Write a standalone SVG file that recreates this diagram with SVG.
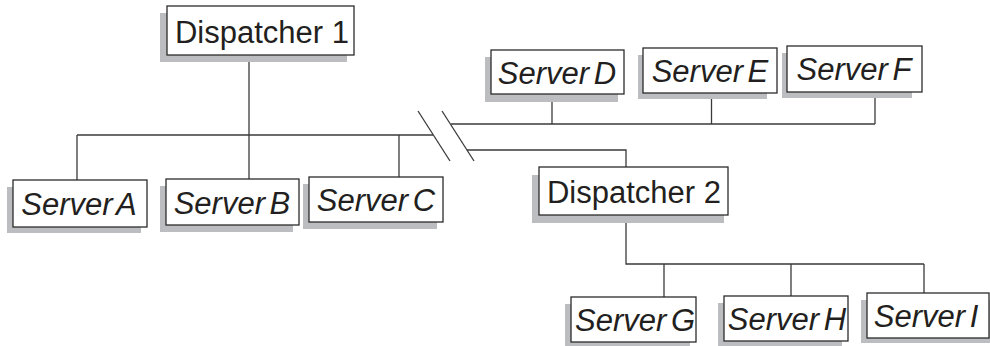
<svg xmlns="http://www.w3.org/2000/svg" width="990" height="346" viewBox="0 0 990 346">
<style>
.shadow{fill:#bcbdc0;}
.box{fill:#ffffff;stroke:#2b2b2b;stroke-width:1.3;}
.lbl{font-family:"Liberation Sans",Arial,sans-serif;font-size:31px;fill:#231f20;text-anchor:middle;}
.it{font-style:italic;word-spacing:-4px;}
.conn line,.conn polyline{stroke:#3a3a3a;stroke-width:1.3;fill:none;}
</style>
<rect width="990" height="346" fill="#ffffff"/>
<g id="connectors" class="conn">
<line x1="249" y1="55" x2="249" y2="135"/>
<line x1="77" y1="135" x2="433" y2="135"/>
<line x1="77" y1="135" x2="77" y2="180"/>
<line x1="249" y1="135" x2="249" y2="179"/>
<line x1="399" y1="135" x2="399" y2="177"/>
<line x1="418" y1="111" x2="450" y2="161"/>
<line x1="442" y1="111" x2="474" y2="161"/>
<line x1="451" y1="124" x2="875" y2="124"/>
<line x1="552" y1="94" x2="552" y2="124"/>
<line x1="711.5" y1="93" x2="711.5" y2="124"/>
<line x1="875" y1="92" x2="875" y2="124"/>
<polyline points="467,150 626,150 626,167"/>
<polyline points="626,215 626,264 924,264"/>
<line x1="664" y1="264" x2="664" y2="297"/>
<line x1="791" y1="264" x2="791" y2="296"/>
<line x1="924" y1="264" x2="924" y2="293"/>
</g>
<g id="dispatcher1">
<rect class="shadow" x="160" y="13" width="187" height="49"/>
<rect class="box" x="167" y="6" width="187" height="49"/>
<text class="lbl" x="262" y="42.5">Dispatcher 1</text>
</g>
<g id="serverA">
<rect class="shadow" x="7" y="187" width="134" height="46"/>
<rect class="box" x="13" y="180" width="134" height="47"/>
<text class="lbl it" x="79" y="215">Server A</text>
</g>
<g id="serverB">
<rect class="shadow" x="160" y="186" width="133" height="46"/>
<rect class="box" x="166" y="179" width="133" height="46"/>
<text class="lbl it" x="232" y="214">Server B</text>
</g>
<g id="serverC">
<rect class="shadow" x="303" y="184" width="134" height="45"/>
<rect class="box" x="309" y="177" width="134" height="45"/>
<text class="lbl it" x="376" y="211">Server C</text>
</g>
<g id="serverD">
<rect class="shadow" x="485" y="57" width="133" height="45"/>
<rect class="box" x="491" y="50" width="133" height="44"/>
<text class="lbl it" x="557" y="84">Server D</text>
</g>
<g id="serverE">
<rect class="shadow" x="638" y="55" width="129" height="44"/>
<rect class="box" x="643" y="48" width="134" height="45"/>
<text class="lbl it" x="710" y="82">Server E</text>
</g>
<g id="serverF">
<rect class="shadow" x="782" y="53" width="130" height="45"/>
<rect class="box" x="787" y="46" width="135" height="46"/>
<text class="lbl it" x="854" y="80">Server F</text>
</g>
<g id="dispatcher2">
<rect class="shadow" x="532" y="175" width="192" height="48"/>
<rect class="box" x="539" y="167" width="189" height="48"/>
<text class="lbl" x="634" y="203">Dispatcher 2</text>
</g>
<g id="serverG">
<rect class="shadow" x="565" y="304" width="125" height="44"/>
<rect class="box" x="571" y="297" width="125" height="45"/>
<text class="lbl it" x="635" y="331">Server G</text>
</g>
<g id="serverH">
<rect class="shadow" x="718" y="303" width="124" height="44"/>
<rect class="box" x="724" y="296" width="124" height="45"/>
<text class="lbl it" x="787" y="330">Server H</text>
</g>
<g id="serverI">
<rect class="shadow" x="861" y="300" width="129" height="43"/>
<rect class="box" x="867" y="293" width="122" height="45"/>
<text class="lbl it" x="926" y="327">Server I</text>
</g>
</svg>
